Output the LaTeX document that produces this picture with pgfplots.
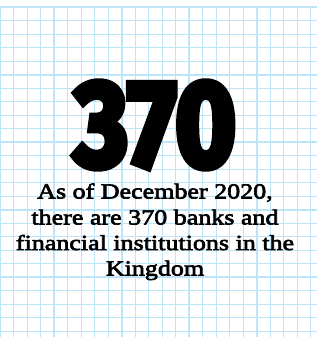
\documentclass[border=0pt]{standalone}
\usepackage{pgfplots}
\pgfplotsset{compat=1.18}
\usepackage{graphicx}
\usepackage{fontspec}
\setmainfont{Liberation Serif}
\newfontfamily\bodyfont{Liberation Serif}[FakeBold=3, FakeStretch=1.21]
\newfontfamily\bignum{Fira Sans}[FakeBold=6]
\definecolor{gridblue}{RGB}{190,228,248}
\begin{document}
\begin{tikzpicture}
\useasboundingbox (0,0) rectangle (317bp,337bp);
\begin{axis}[
  at={(0,0)}, anchor=south west,
  scale only axis, width=317bp, height=329.5bp,
  xmin=0, xmax=317, ymin=0, ymax=329.5,
  axis line style={draw=none},
  major tick length=0pt, minor tick length=0pt,
  xticklabels={}, yticklabels={},
  xtick={54,121.5,189,256.5},
  minor xtick={0,13.5,27,40.5,67.5,81,94.5,108,135,148.5,162,175.5,202.5,216,229.5,243,270,283.5,297,310.5},
  ytick={59.5,127,194.5,262,329.5},
  minor ytick={5.5,19,32.5,46,73,86.5,100,113.5,140.5,154,167.5,181,208,221.5,235,248.5,275.5,289,302.5,316},
  grid=both,
  major grid style={line width=2bp, color=gridblue},
  minor grid style={line width=1bp, color=gridblue},
  clip=false,
]
\node[inner sep=0pt, anchor=center] at (axis cs:155,212) {\resizebox{162bp}{84bp}{\bignum\bfseries 370}};
\node[inner sep=0pt, anchor=base, font=\bodyfont\fontsize{21.5bp}{25bp}\selectfont] at (axis cs:155,138.5) {As of December 2020,};
\node[inner sep=0pt, anchor=base, font=\bodyfont\fontsize{21.5bp}{25bp}\selectfont] at (axis cs:155,112.5) {there are 370 banks and};
\node[inner sep=0pt, anchor=base, font=\bodyfont\fontsize{21.5bp}{25bp}\selectfont] at (axis cs:155,87) {financial institutions in the};
\node[inner sep=0pt, anchor=base, font=\bodyfont\fontsize{21.5bp}{25bp}\selectfont] at (axis cs:155,61.5) {Kingdom};
\end{axis}
\end{tikzpicture}
\end{document}
